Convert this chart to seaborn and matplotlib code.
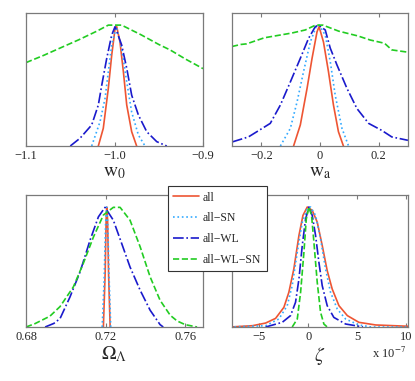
import matplotlib
matplotlib.use("Agg")
import matplotlib.pyplot as plt
import seaborn as sns

# ── Data (normalised posteriors) ──────────────────────────────────────────────
LABELS = ["all", "all\u2212SN", "all\u2212WL", "all\u2212WL\u2212SN"]

# w0
w0_all_x = [-1.0183, -1.0127, -1.007, -1.0032, -0.9994, -0.9975, -0.9938, -0.990, -0.9862, -0.9806, -0.975]
w0_all_y = [0.0, 0.146, 0.477, 0.75, 0.97, 0.987, 0.86, 0.615, 0.339, 0.118, 0.0]
w0_sn_x = [-1.0258, -1.0164, -1.0107, -1.007, -1.0032, -0.998, -0.992, -0.9862, -0.9806, -0.973, -0.9655]
w0_sn_y = [0.0, 0.20, 0.394, 0.615, 0.835, 0.987, 0.81, 0.53, 0.28, 0.09, 0.0]
w0_wl_x = [-1.050, -1.039, -1.0258, -1.0183, -1.0145, -1.0088, -1.0032, -0.9994, -0.9919, -0.9862, -0.9806,
           -0.973, -0.9636, -0.9523, -0.941]
w0_wl_y = [0.0, 0.064, 0.174, 0.339, 0.50, 0.725, 0.918, 0.987, 0.835, 0.643, 0.42,
           0.256, 0.118, 0.036, 0.0]
w0_wlsn_x = [-1.1, -1.08, -1.0616, -1.04, -1.02, -1.007, -0.992, -0.97, -0.95, -0.937, -0.92, -0.9]
w0_wlsn_y = [0.69, 0.75, 0.81, 0.88, 0.95, 1.0, 1.0, 0.92, 0.84, 0.794, 0.72, 0.64]

# wa
wa_all_x = [-0.09, -0.067, -0.044, -0.027, -0.010, -0.003, 0.012, 0.029, 0.046, 0.063, 0.08]
wa_all_y = [0.0, 0.174, 0.477, 0.725, 0.945, 0.987, 0.86, 0.615, 0.339, 0.118, 0.0]
wa_sn_x = [-0.135, -0.101, -0.078, -0.056, -0.033, -0.013, -0.003, 0.018, 0.035, 0.052, 0.075, 0.0975]
wa_sn_y = [0.0, 0.146, 0.366, 0.615, 0.86, 0.987, 1.0, 0.918, 0.70, 0.42, 0.146, 0.0]
wa_wl_x = [-0.3, -0.244, -0.198, -0.1695, -0.135, -0.101, -0.067, -0.039, -0.016, -0.005, 0.018, 0.035,
           0.058, 0.092, 0.126, 0.166, 0.21, 0.245, 0.3]
wa_wl_y = [0.033, 0.075, 0.144, 0.187, 0.339, 0.53, 0.725, 0.89, 0.987, 1.0, 0.96, 0.81,
           0.67, 0.477, 0.31, 0.187, 0.13, 0.075, 0.047]
wa_wlsn_x = [-0.3, -0.27, -0.25, -0.19, -0.095, -0.05, -0.015, 0.01, 0.064, 0.13, 0.171, 0.22, 0.245, 0.3]
wa_wlsn_y = [0.823, 0.84, 0.845, 0.895, 0.935, 0.96, 1.0, 1.0, 0.95, 0.91, 0.877, 0.85, 0.795, 0.776]

# Omega_Lambda
ol_all_x = [0.7189, 0.7198, 0.7203, 0.7206, 0.7210, 0.7215, 0.7223]
ol_all_y = [0.0, 0.45, 0.9, 1.0, 0.9, 0.45, 0.0]
ol_sn_x = [0.7183, 0.7193, 0.7200, 0.7205, 0.7211, 0.7218, 0.7226]
ol_sn_y = [0.0, 0.4, 0.85, 1.0, 0.85, 0.4, 0.0]
ol_wl_x = [0.6896, 0.694, 0.6971, 0.7021, 0.7072, 0.7122, 0.7164, 0.7197, 0.7239, 0.7281, 0.7323,
           0.7374, 0.7424, 0.7474, 0.749]
ol_wl_y = [0.0, 0.03, 0.07, 0.25, 0.46, 0.724, 0.918, 0.997, 0.89, 0.696, 0.50,
           0.306, 0.14, 0.02, 0.0]
ol_wlsn_x = [0.68, 0.6845, 0.692, 0.6971, 0.7038, 0.7088, 0.7139, 0.7189, 0.7239, 0.7273, 0.7323, 0.7374,
             0.7424, 0.7474, 0.7525, 0.756, 0.760, 0.766]
ol_wlsn_y = [0.0, 0.028, 0.09, 0.17, 0.334, 0.53, 0.75, 0.933, 0.997, 0.997, 0.89, 0.668,
             0.418, 0.223, 0.098, 0.05, 0.02, 0.0]

# zeta (units of 1e-7)
z_all_x = [-8, -5.7, -4.36, -3.34, -2.49, -1.98, -1.47, -0.95, -0.54, -0.1, 0.41, 0.92, 1.43, 1.94,
           2.45, 3.14, 4.0, 5.18, 6.9, 10.3]
z_all_y = [0.0, 0.011, 0.033, 0.072, 0.164, 0.29, 0.485, 0.763, 0.93, 1.0, 0.972, 0.874, 0.68, 0.47,
           0.317, 0.178, 0.095, 0.039, 0.017, 0.006]
z_sn_x = [-8, -4.36, -3.0, -2.15, -1.64, -1.12, -0.61, -0.1, 0.24, 0.75, 1.26, 1.77, 2.28, 2.97,
          3.82, 5.18, 6.5, 10.3]
z_sn_y = [0.0, 0.011, 0.067, 0.178, 0.345, 0.624, 0.874, 0.986, 1.0, 0.93, 0.735, 0.485, 0.29, 0.15,
          0.067, 0.017, 0.0, 0.0]
z_wl_x = [-4.36, -2.66, -1.81, -1.3, -0.95, -0.61, -0.27, 0.07, 0.41, 0.75, 1.09, 1.43, 1.94, 2.62,
          3.82, 5.2, 5.6]
z_wl_y = [0.0, 0.039, 0.095, 0.206, 0.4, 0.68, 0.9, 1.0, 0.93, 0.763, 0.54, 0.345, 0.178, 0.08,
          0.025, 0.006, 0.0]
z_wlsn_x = [-1.64, -1.12, -0.78, -0.44, -0.2, 0.07, 0.34, 0.58, 0.92, 1.26, 1.6, 1.94]
z_wlsn_y = [0.0, 0.067, 0.29, 0.624, 0.9, 1.0, 0.93, 0.707, 0.373, 0.123, 0.025, 0.0]

# ── Style ─────────────────────────────────────────────────────────────────────
sns.set_style("white")
plt.rcParams["font.family"] = ["Liberation Serif", "DejaVu Serif"]
plt.rcParams["mathtext.fontset"] = "stix"

COLORS = ["#ee5533", "#33aaff", "#1a1acc", "#22cc22"]
STYLES = ["-", ":", "-.", "--"]
GRAY = "#7a7a7a"

panels = [
    dict(pos=[0.0627, 0.6168, 0.4265, 0.349], xlim=(-1.1, -0.9), ticks=[-1.1, -1.0, -0.9],
         ticklabels=["\u22121.1", "\u22121.0", "\u22120.9"], label=r"$\mathrm{w}_0$",
         data=[(w0_all_x, w0_all_y), (w0_sn_x, w0_sn_y), (w0_wl_x, w0_wl_y), (w0_wlsn_x, w0_wlsn_y)]),
    dict(pos=[0.559, 0.6168, 0.424, 0.349], xlim=(-0.3, 0.3), ticks=[-0.2, 0, 0.2],
         ticklabels=["\u22120.2", "0", "0.2"], label=r"$\mathrm{w}_\mathrm{a}$",
         data=[(wa_all_x, wa_all_y), (wa_sn_x, wa_sn_y), (wa_wl_x, wa_wl_y), (wa_wlsn_x, wa_wlsn_y)]),
    dict(pos=[0.0627, 0.1417, 0.4265, 0.3465], xlim=(0.68, 0.769), ticks=[0.68, 0.72, 0.76],
         ticklabels=["0.68", "0.72", "0.76"], label=r"$\Omega_\Lambda$",
         data=[(ol_all_x, ol_all_y), (ol_sn_x, ol_sn_y), (ol_wl_x, ol_wl_y), (ol_wlsn_x, ol_wlsn_y)]),
    dict(pos=[0.559, 0.1417, 0.424, 0.3465], xlim=(-7.8, 10.2), ticks=[-5, 0, 5, 10],
         ticklabels=["\u22125", "0", "5", "10"], label=r"$\zeta$",
         data=[(z_all_x, z_all_y), (z_sn_x, z_sn_y), (z_wl_x, z_wl_y), (z_wlsn_x, z_wlsn_y)]),
]

fig = plt.figure(figsize=(4.15, 3.81), dpi=100)
axes = []
for p in panels:
    ax = fig.add_axes(p["pos"])
    for (x, y), c, ls, lab in zip(p["data"], COLORS, STYLES, LABELS):
        sns.lineplot(x=x, y=y, ax=ax, color=c, linestyle=ls, linewidth=1.2, label=lab, legend=False)
    ax.set_xlim(*p["xlim"])
    ax.set_ylim(0, 1.1)
    ax.set_xticks(p["ticks"])
    ax.set_xticklabels(p["ticklabels"], fontsize=9)
    ax.set_yticks([])
    ax.set_ylabel("")
    ax.set_xlabel(p["label"], fontsize=14, labelpad=1)
    ax.tick_params(axis="x", direction="in", top=True, bottom=True, length=3, color=GRAY, pad=3)
    for s in ax.spines.values():
        s.set_color(GRAY)
        s.set_linewidth(0.9)
    axes.append(ax)

axes[3].text(0.99, -0.2, r"x 10$^{-7}$", transform=axes[3].transAxes, ha="right", va="center", fontsize=9)

handles, labels = axes[0].get_legend_handles_labels()
leg = fig.legend(handles, labels, loc="upper left", bbox_to_anchor=(0.405, 0.511),
                 fontsize=8.5, frameon=True, fancybox=False, framealpha=1, edgecolor="#333333",
                 handlelength=2.2, handletextpad=0.3, labelspacing=0.75, borderpad=0.45,
                 borderaxespad=0)
leg.get_frame().set_linewidth(0.8)

fig.savefig("out.png", dpi=100)
